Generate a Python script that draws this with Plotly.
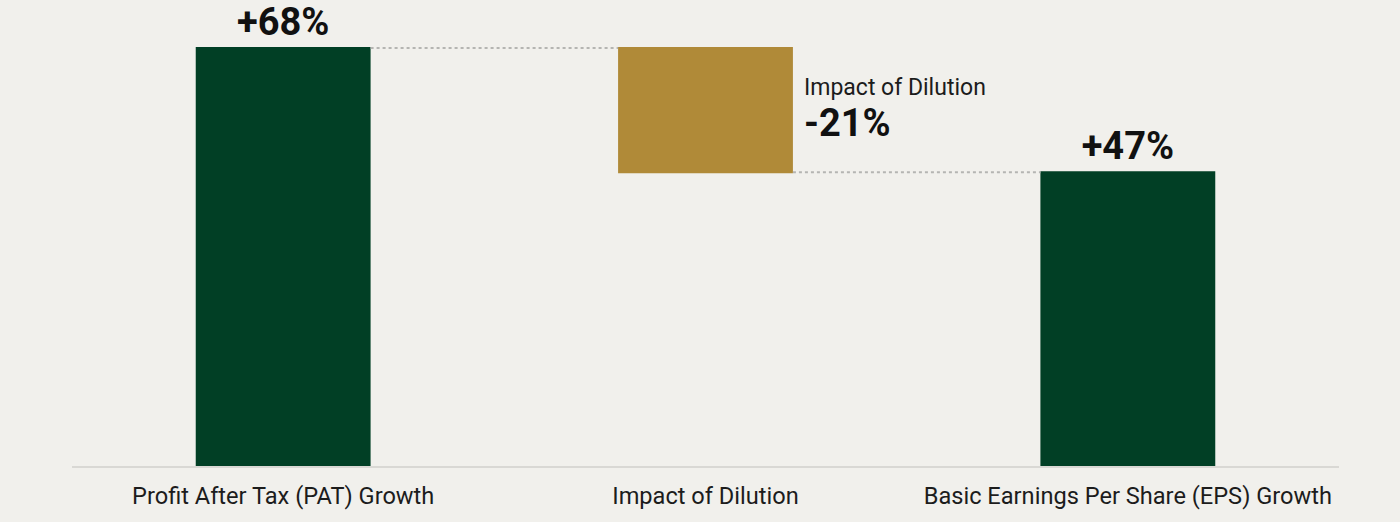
"""
PAT growth vs EPS growth bridge (impact of dilution)
"""

import plotly.graph_objects as go

# data
categories = ["Profit After Tax (PAT) Growth", "Impact of Dilution", "Basic Earnings Per Share (EPS) Growth"]
measures = ["absolute", "relative", "total"]
values = [68, -20.2, 0]
bar_labels = ["+68%", "", "+47%"]
dilution_title = "Impact of Dilution"
dilution_label = "-21%"

BG = "#f1f0ec"
GREEN = "#013f25"
GOLD = "#b08a38"
FONT = "Roboto"

fig = go.Figure(go.Waterfall(
    x=categories,
    y=values,
    measure=measures,
    text=bar_labels,
    textposition="outside",
    textfont=dict(family=FONT, size=38, color="#111111", weight="bold"),
    cliponaxis=False,
    increasing=dict(marker=dict(color=GREEN, line=dict(width=0))),
    decreasing=dict(marker=dict(color=GOLD, line=dict(width=0))),
    totals=dict(marker=dict(color=GREEN, line=dict(width=0))),
    connector=dict(line=dict(color="#b5b5b2", width=2, dash="dot")),
    hoverinfo="skip",
))

# side labels for the dilution bar
half = (1 - 0.586) / 2
fig.add_annotation(x=1 + half, y=values[0] - 6.4, xref="x", yref="y",
                   text=dilution_title, showarrow=False, xanchor="left", yanchor="middle",
                   xshift=9, font=dict(family=FONT, size=23, color="#1c1c1c"))
fig.add_annotation(x=1 + half, y=values[0] - 12.2, xref="x", yref="y",
                   text=dilution_label, showarrow=False, xanchor="left", yanchor="middle",
                   xshift=9, font=dict(family=FONT, size=38, color="#111111", weight="bold"))

fig.update_layout(
    width=1400,
    height=522,
    paper_bgcolor=BG,
    plot_bgcolor=BG,
    font=dict(family=FONT, size=23, color="#1c1c1c"),
    showlegend=False,
    waterfallgap=0.586,
    margin=dict(l=72, r=61, t=10, b=56),
    xaxis=dict(
        showgrid=False,
        showline=True,
        linecolor="#d9d8d4",
        linewidth=2,
        ticks="",
        tickfont=dict(family=FONT, size=23.6, color="#1c1c1c"),
        ticklabelstandoff=8,
        fixedrange=True,
    ),
    yaxis=dict(
        range=[0, 74.2],
        visible=False,
        showgrid=False,
        zeroline=False,
        fixedrange=True,
    ),
)

# drop the default page margin so the figure fills the window
fig.write_html("out.html", config={"displayModeBar": False},
               post_script="document.body.style.margin='0';")
